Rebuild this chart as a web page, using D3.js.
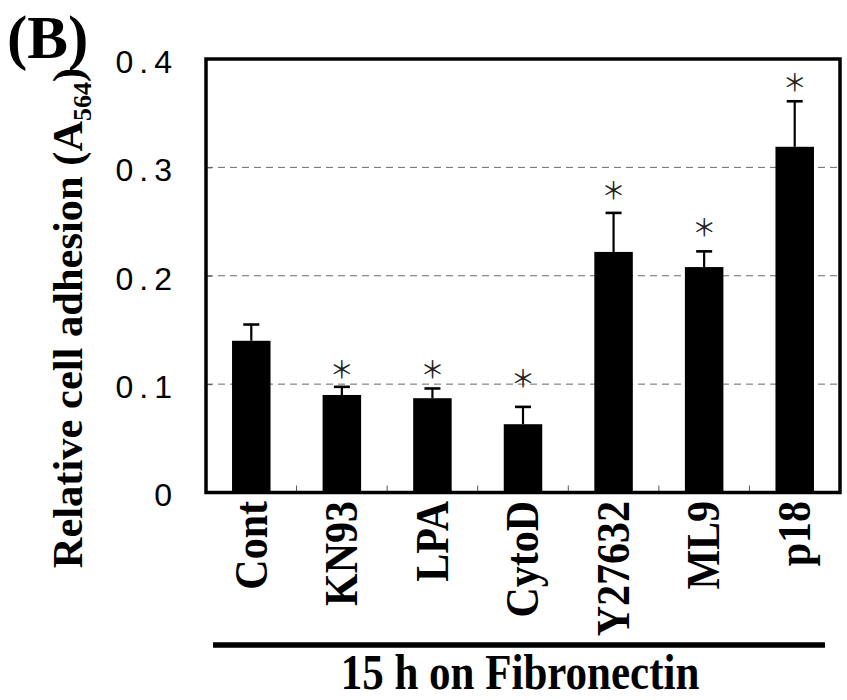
<!DOCTYPE html>
<html>
<head>
<meta charset="utf-8">
<script src="https://cdn.jsdelivr.net/npm/d3@7"></script>
<style>
  html, body { margin: 0; padding: 0; background: #fff; }
  svg { display: block; }
</style>
</head>
<body>
<svg id="chart" width="847" height="700"></svg>
<script>
// ---- data ----
const categories = ['Cont', 'KN93', 'LPA', 'CytoD', 'Y27632', 'ML9', 'p18'];
const means      = [0.140, 0.090, 0.087, 0.063, 0.222, 0.208, 0.319];
const errors     = [0.015, 0.0075, 0.009, 0.016, 0.036, 0.0145, 0.042];
const starAt     = [null, 0.114, 0.114, 0.106, 0.279, 0.245, 0.379];   // '*' marks (data units)
const yTicks     = [0, 0.1, 0.2, 0.3, 0.4];
const gridTicks  = [0.1, 0.2, 0.3];

const rows = categories.map((c, i) => ({ c, m: means[i], e: errors[i], s: starAt[i] }));

const svg = d3.select('#chart');
const P = { left: 206, right: 840, top: 59, bottom: 492.5 };

const x = d3.scaleBand(categories, [P.left, P.right]).paddingInner(0.575).paddingOuter(0.2875);
const y = d3.scaleLinear([0, 0.4], [P.bottom, P.top]);
const cx = c => x(c) + x.bandwidth() / 2;

// gridlines
svg.append('g').selectAll('line').data(gridTicks).join('line')
  .attr('x1', P.left).attr('x2', P.right).attr('y1', d => y(d)).attr('y2', d => y(d))
  .attr('stroke', '#6a6a6a').attr('stroke-width', 1).attr('stroke-dasharray', '7,5');

// y axis: inward ticks + labels
const ya = svg.append('g').attr('transform', `translate(${P.left},0)`)
  .call(d3.axisLeft(y).tickValues(yTicks).tickFormat(d => d === 0 ? '0' : d3.format('.1f')(d))
    .tickSizeInner(-6).tickSizeOuter(0).tickPadding(28));
ya.select('.domain').remove();
ya.selectAll('line').attr('stroke', '#555');
ya.selectAll('text').attr('font-family', '"Liberation Sans", Arial, sans-serif')
  .attr('font-size', 32).attr('fill', '#000').attr('letter-spacing', '6px').attr('dy', '0.42em');

// x axis ticks between categories
svg.append('g').selectAll('line').data(categories.slice(0, -1)).join('line')
  .attr('x1', c => x(c) + x.step() - (x.step() - x.bandwidth()) / 2)
  .attr('x2', c => x(c) + x.step() - (x.step() - x.bandwidth()) / 2)
  .attr('y1', P.bottom).attr('y2', P.bottom - 7)
  .attr('stroke', '#555').attr('stroke-width', 1);

// bars
svg.append('g').selectAll('rect').data(rows).join('rect')
  .attr('x', r => x(r.c)).attr('width', x.bandwidth())
  .attr('y', r => y(r.m)).attr('height', r => y(0) - y(r.m))
  .attr('fill', '#000');

// error bars (upper only)
const eb = svg.append('g').attr('stroke', '#000').attr('stroke-width', 2.2);
eb.selectAll('line.v').data(rows).join('line').attr('class', 'v')
  .attr('x1', r => cx(r.c)).attr('x2', r => cx(r.c))
  .attr('y1', r => y(r.m)).attr('y2', r => y(r.m + r.e));
eb.selectAll('line.h').data(rows).join('line').attr('class', 'h')
  .attr('x1', r => cx(r.c) - 8).attr('x2', r => cx(r.c) + 8)
  .attr('y1', r => y(r.m + r.e)).attr('y2', r => y(r.m + r.e))
  .attr('stroke-width', 2.6);

// significance stars
svg.append('g').selectAll('text').data(rows.filter(r => r.s !== null)).join('text')
  .attr('x', r => cx(r.c)).attr('y', r => y(r.s)).attr('dy', '0.38em')
  .attr('text-anchor', 'middle').attr('font-family', '"Noto Sans CJK JP", sans-serif')
  .attr('font-size', 24).attr('fill', '#222').text('＊');

// frame
svg.append('rect').attr('x', P.left).attr('y', P.top)
  .attr('width', P.right - P.left).attr('height', P.bottom - P.top)
  .attr('fill', 'none').attr('stroke', '#000').attr('stroke-width', 3.5);

// category labels (rotated)
const serif = '"Liberation Serif", "Times New Roman", serif';
svg.append('g').selectAll('text').data(categories).join('text')
  .attr('transform', c => `translate(${cx(c)},501) rotate(-90) scale(1,1.1)`)
  .attr('text-anchor', 'end').attr('dy', '0.33em')
  .attr('font-family', serif).attr('font-weight', 'bold').attr('font-size', 42)
  .text(c => c);

// y axis title
const yt = svg.append('text').attr('transform', 'translate(82,318) rotate(-90)')
  .attr('text-anchor', 'middle').attr('font-family', serif).attr('font-weight', 'bold')
  .attr('font-size', 42.5);
yt.append('tspan').text('Relative cell adhesion (A');
yt.append('tspan').attr('font-size', 26).attr('dy', 9).text('564');
yt.append('tspan').attr('dy', -9).text(')');

// panel letter
svg.append('text').attr('x', 7).attr('y', 58).attr('font-family', serif)
  .attr('font-weight', 'bold').attr('font-size', 61).text('(B)');

// group bracket + title
svg.append('line').attr('x1', 213).attr('x2', 825).attr('y1', 645).attr('y2', 645)
  .attr('stroke', '#000').attr('stroke-width', 5.5);
svg.append('text').attr('transform', 'translate(520,689) scale(1,1.2)')
  .attr('text-anchor', 'middle').attr('font-family', serif).attr('font-weight', 'bold')
  .attr('font-size', 43).text('15 h on Fibronectin');
</script>
</body>
</html>
